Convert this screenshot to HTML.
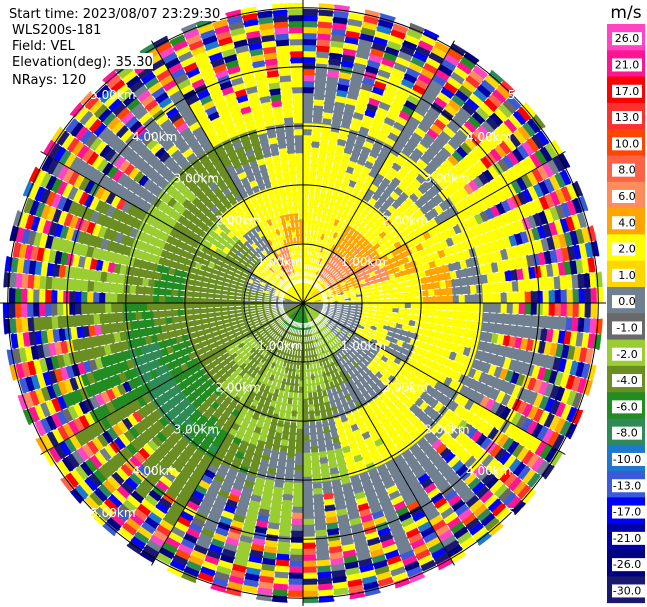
<!DOCTYPE html>
<html><head><meta charset="utf-8"><style>
html,body{margin:0;padding:0;background:#fff;}
svg{display:block;font-family:"DejaVu Sans","Liberation Sans",sans-serif;}
</style></head><body>
<svg id="chart" width="647" height="607" viewBox="0 0 647 607" xmlns="http://www.w3.org/2000/svg">
<g id="cells"></g>
<g id="grid"></g>
<g id="rlabels"></g>
<g id="cbar"></g>
<g font-size="13" fill="#000">
<rect x="8" y="4" width="212" height="17" fill="#fff"/>
<text x="9" y="18">Start time: 2023/08/07 23:29:30</text>
<rect x="10" y="21" width="92" height="16" fill="#fff"/>
<text x="12" y="34">WLS200s-181</text>
<rect x="10" y="37" width="68" height="16" fill="#fff"/>
<text x="12" y="50">Field: VEL</text>
<rect x="10" y="53" width="143" height="16" fill="#fff"/>
<text x="12" y="66">Elevation(deg): 35.30</text>
<rect x="10" y="70" width="78" height="17" fill="#fff"/>
<text x="12" y="84">NRays: 120</text>
</g>
</svg>
<script>
// colour scale
const bounds = [-30,-26,-21,-17,-13,-10,-8,-6,-4,-2,-1,0,1,2,4,6,8,10,13,17,21,26,30];
const colors = ["#191970","#000080","#0000a8","#0000ff","#3a5ad8","#1e78d0","#2e8b57","#228b22","#6b8e23","#9acd32","#696969","#708090","#ffd700","#ffff00","#ffa500","#ff8c5a","#ff6347","#ff4500","#ff3030","#ff0000","#ff1493","#ff44c4"];
const tickLabels = ["26.0","21.0","17.0","13.0","10.0","8.0","6.0","4.0","2.0","1.0","0.0","-1.0","-2.0","-4.0","-6.0","-8.0","-10.0","-13.0","-17.0","-21.0","-26.0","-30.0"];
// velocity per 15-deg azimuth sector (from north, clockwise), per 30px range band (inner 7 bands)
const sectorVel = [
 [2,2,2,3,2,2,0.5],[2,3,2,2,2,0.5,2],[2,6,5,2,0.5,2,0.5],[1.5,6,5,2,2,0.5,2],
 [2,5,6,5,2,2,2],[2,2,3,2,5,0.5,2],[0.5,0.5,2,2,2,2,0.5],[0.5,0.5,2,0.5,2,2,0.5],
 [-1.5,0.5,0.5,2,2,0.5,2],[-1.5,-1.5,0.5,0.5,2,2,0.5],[-1.5,-1.5,-3,0.5,2,2,0.5],[-5,-3,-1.5,-3,0.5,-1.5,0.5],
 [-5,-3,-3,-1.5,-3,0.5,-1.5],[-5,-3,-1.5,-3,-1.5,-3,0.5],[-5,-3,-3,-1.5,-3,-5,-3],[-3,-3,-1.5,-3,-5,-7,-3],
 [-3,-3,-3,-3,-5,-7,-5],[0.5,-3,-3,-3,-3,-5,-3],[0.5,-3,-3,-3,-5,-3,-1.5],[2,0.5,-3,-3,-3,-1.5,-3],
 [2,2,-3,-1.5,-3,-1.5,0.5],[2,2,0.5,2,-3,-3,0.5],[2,6,2,2,0.5,-3,2],[2,2,5,2,2,0.5,2]];
// noisy outer velocities (observed outer-ring speckle)
const noiseVel = [3,-28,24,-15,1.5,-23,18,5,-11,3,-7,28,0.5,-19,11,3,-3,-28,22,1.5,-15,-5,15,3,-24,7,-9,-1.5,28,-19,3,0.5,-12,19,-28,1.5,9,-23,-7,24,3,-15,5,-1.5,-28,13,-0.5,22,3,-11];
const nRays = 120, gateLen = 6, nGates = 50;
const cx = 303, cy = 303, R = 300, rangeKm = 5.08;

function colorOf(v){for(let i=0;i<colors.length;i++){if(v<bounds[i+1])return colors[i];}return colors[colors.length-1];}
function rScale(km){return km/rangeKm*R;}
function pt(r,az){const a=az*Math.PI/180;return [cx+r*Math.sin(a), cy-r*Math.cos(a)];}
const NS="http://www.w3.org/2000/svg";
function mk(tag,attrs,parent){const e=document.createElementNS(NS,tag);for(const k in attrs)e.setAttribute(k,attrs[k]);parent.appendChild(e);return e;}

const cells=document.getElementById('cells');
for(let ray=0;ray<nRays;ray++){
  const az0=ray*3, az1=az0+3, azc=az0+1.5;
  const sec=Math.floor(azc/15)%24, sec2=(sec+1)%24;
  const onset = 7 + ((ray*5)%3);
  let runStart=0, runColor=null;
  const gateColor=g=>{
    if(g>=onset*5-((ray*3)%4)) return colorOf(noiseVel[(ray*7+g*3)%noiseVel.length]);
    const b=Math.min(6,Math.floor(g*gateLen/30));
    const s=((ray*2+g)%7===0)?sec2:sec;
    return colorOf(sectorVel[s][b]);
  };
  const maxG = nGates - ((ray*7)%3===0?1:0);
  for(let g=0;g<=maxG;g++){
    const c = g<maxG?gateColor(g):null;
    if(c!==runColor){
      if(runColor!==null){
        const r0=runStart*gateLen, r1=g*gateLen;
        const p0=pt(r0,az0),p1=pt(r1,az0),p2=pt(r1,az1),p3=pt(r0,az1);
        const p=mk('path',{d:`M${p0}L${p1}A${r1},${r1} 0 0 1 ${p2}L${p3}A${r0},${r0} 0 0 0 ${p0}Z`,fill:runColor,stroke:runColor,'stroke-width':0.3},cells);
        
        
      }
      runStart=g;runColor=c;
    }
  }
  // white gap between rays
  const a=pt(20,az0), b=pt(nGates*gateLen+2,az0);
  const l=mk('line',{x1:a[0],y1:a[1],x2:b[0],y2:b[1],stroke:'#fff','stroke-width':0.9,'stroke-dasharray':'5 2'},cells);
  
  
}

const grid=document.getElementById('grid');
const ringKm=[1,2,3,4,5];
ringKm.forEach(k=>{
  const c=mk('circle',{cx:cx,cy:cy,r:rScale(k),fill:'none',stroke:'#000','stroke-width':1},grid);
  
  
});
for(let az=0;az<360;az+=30){
  const b=pt(R+3,az);
  const l=mk('line',{x1:cx,y1:cy,x2:b[0],y2:b[1],stroke:'#000','stroke-width':1},grid);
  
  
}
const rl=document.getElementById('rlabels');
ringKm.forEach(k=>{
  [45,135,225,315].forEach(az=>{
    const p=pt(rScale(k),az);
    const t=mk('text',{x:p[0]-4,y:p[1]+5,fill:'#fff','font-size':12},rl);
    t.textContent=k.toFixed(2)+'km';
    
    
  });
});

const cb=document.getElementById('cbar');
const cbTop=24, segH=26.3, cbX=607, cbW=38;
for(let i=0;i<colors.length;i++){
  const idx=colors.length-1-i;
  const r=mk('rect',{x:cbX,y:cbTop+i*segH,width:cbW,height:segH+0.5,fill:colors[idx]},cb);
  
  
  const ty=cbTop+i*segH+segH/2+5;
  const bg=mk('rect',{x:cbX+5,y:ty-10,width:tickLabels[i].length*7+2,height:13,fill:'#fff'},cb);
  
  
  const t=mk('text',{x:cbX+cbW/2+1,y:ty,'text-anchor':'middle','font-size':11,fill:'#000'},cb);
  t.textContent=tickLabels[i];
  
  
}
const tt=mk('text',{x:cbX+cbW/2,y:18,'text-anchor':'middle','font-size':17,fill:'#000'},cb);
tt.textContent='m/s';


</script>
</body></html>
